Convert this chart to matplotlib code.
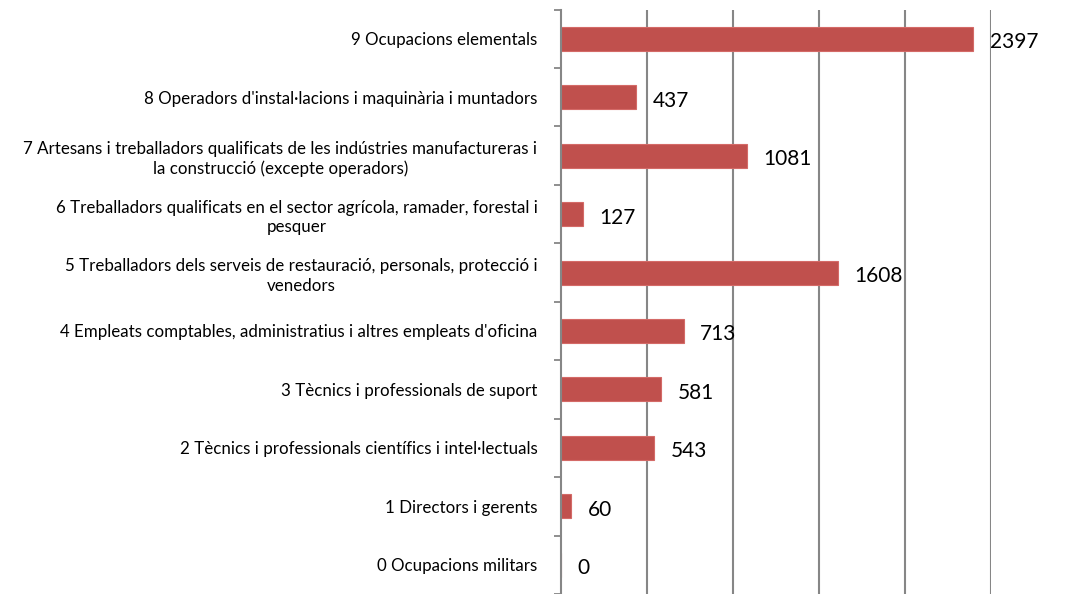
import matplotlib
matplotlib.use("Agg")
import matplotlib.pyplot as plt
import numpy as np

plt.rcParams['font.family'] = ['Lato', 'DejaVu Sans']

# Dades
categories = [
    "0 Ocupacions militars",
    "1 Directors i gerents",
    "2 Tècnics i professionals científics i intel·lectuals",
    "3 Tècnics i professionals de suport",
    "4 Empleats comptables, administratius i altres empleats d'oficina",
    "5 Treballadors dels serveis de restauració, personals, protecció i\nvenedors",
    "6 Treballadors qualificats en el sector agrícola, ramader, forestal i\npesquer",
    "7 Artesans i treballadors qualificats de les indústries manufactureras i\nla construcció (excepte operadors)",
    "8 Operadors d'instal·lacions i maquinària i muntadors",
    "9 Ocupacions elementals",
]
valors = [0, 60, 543, 581, 713, 1608, 127, 1081, 437, 2397]

bar_color = '#C0504D'
grid_color = '#868686'

fig = plt.figure(figsize=(10.70, 5.94), dpi=100)
ax = fig.add_axes([561 / 1070, 0, (991 - 561) / 1070, 1 - 9.5 / 594])

y = np.arange(len(categories))
bars = ax.barh(y, valors, height=0.41, color=bar_color, edgecolor='#D46A67',
               linewidth=0.8, zorder=3)

ax.set_xlim(0, 2500)
ax.set_ylim(-0.407, 9.5)

# Línies de graella verticals
ax.set_xticks(np.arange(500, 2501, 500))
ax.tick_params(axis='x', length=0, labelbottom=False)
ax.grid(axis='x', color=grid_color, linewidth=1.5, zorder=1)

# Etiquetes de categories
ax.set_yticks(y)
ax.set_yticklabels(categories, fontsize=12.2, color='black')
ax.tick_params(axis='y', which='major', length=0, pad=17)
for lab in ax.get_yticklabels():
    lab.set_multialignment('center')
    lab.set_linespacing(1.3)
ax.set_yticks(np.arange(-0.5, 9.6, 1), minor=True)
ax.tick_params(axis='y', which='minor', length=5, width=1.3, color=grid_color)

for s in ['top', 'right', 'bottom']:
    ax.spines[s].set_visible(False)
ax.spines['left'].set_color(grid_color)
ax.spines['left'].set_linewidth(1.5)
ax.spines['left'].set_zorder(4)

for rect, v in zip(bars, valors):
    ax.annotate(str(v), xy=(rect.get_width(), rect.get_y() + rect.get_height() / 2),
                xytext=(12, -2.5), textcoords='offset points', ha='left', va='center',
                fontsize=15, color='black', annotation_clip=False, zorder=5)

fig.savefig('out.png', dpi=100)
